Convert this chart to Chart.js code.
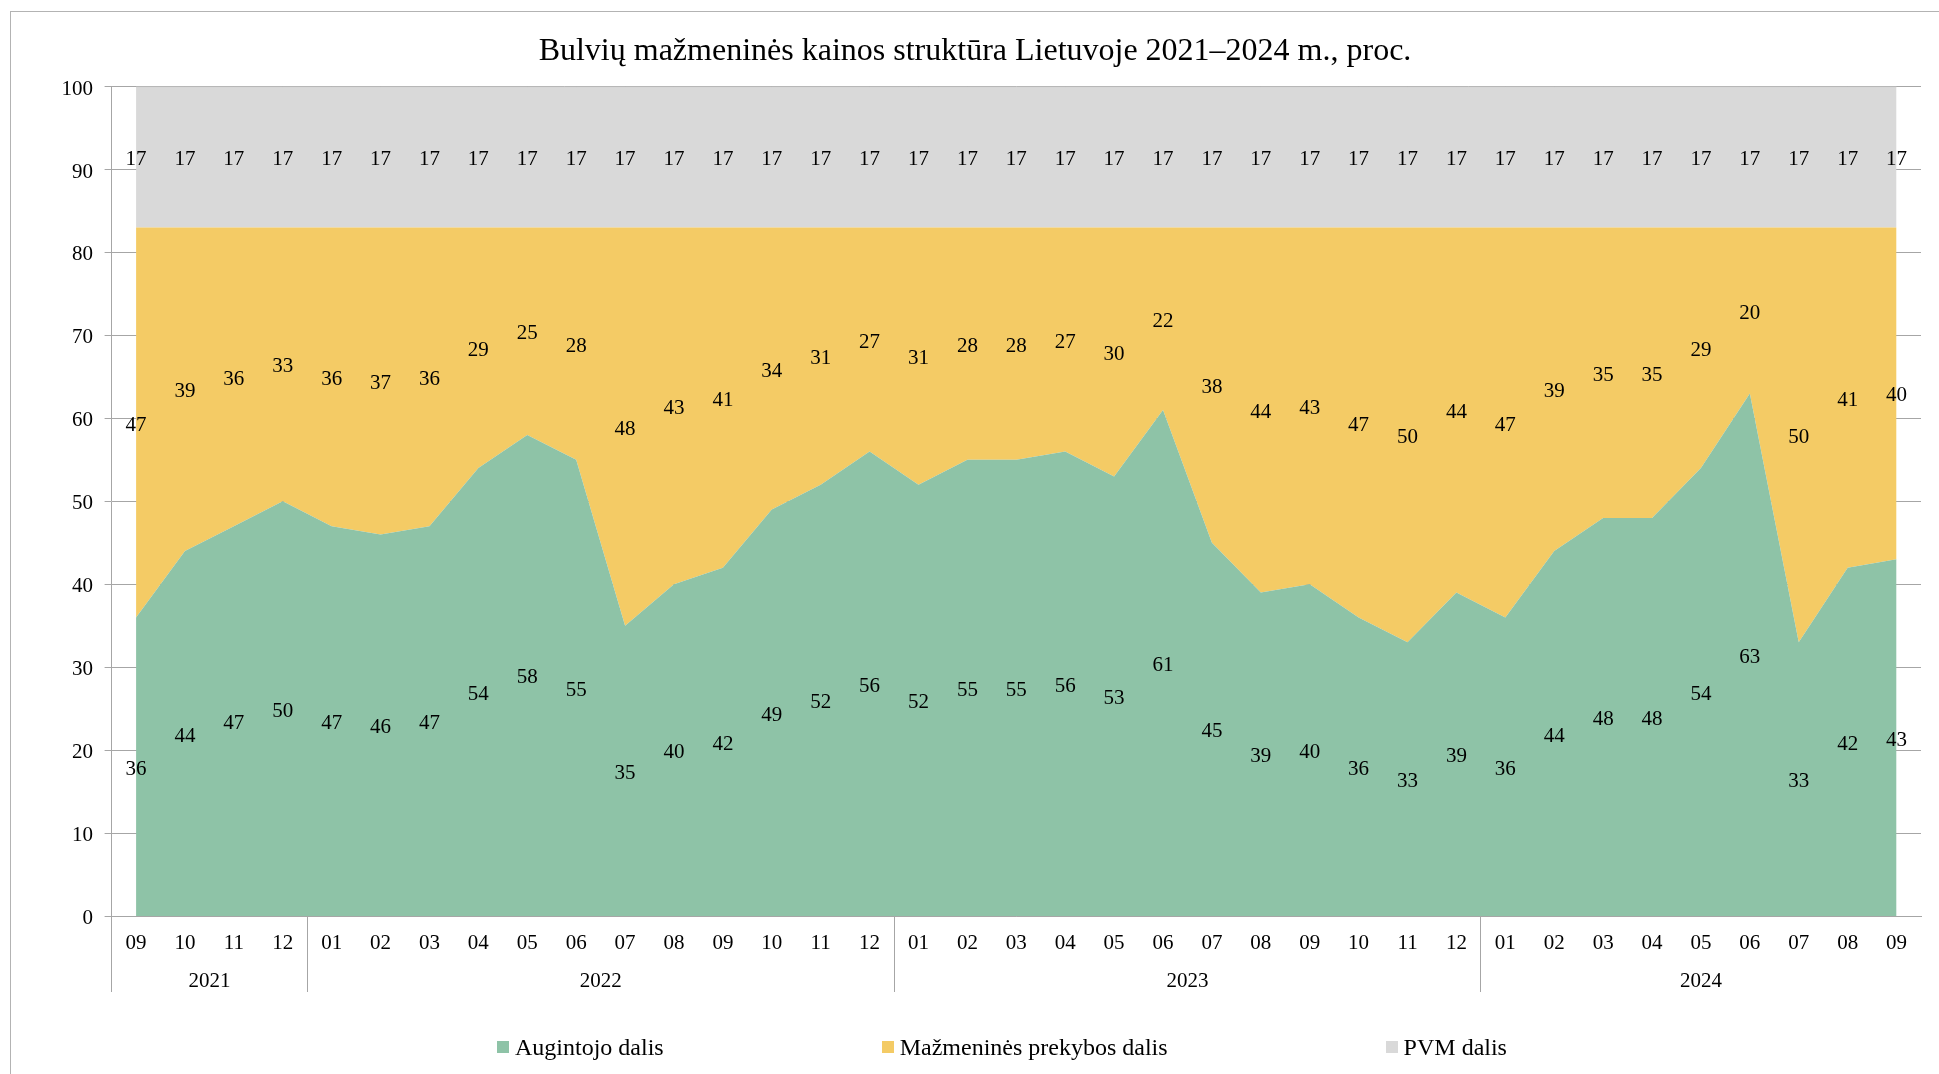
<!DOCTYPE html>
<html>
<head>
<meta charset="utf-8">
<script src="https://cdn.jsdelivr.net/npm/chart.js@4.4.1/dist/chart.umd.min.js"></script>
<style>
  html, body { margin:0; padding:0; background:#fff; overflow:hidden; width:1939px; height:1074px; }
  #frame { position:absolute; left:10px; top:11px; width:2100px; height:1200px; border:1px solid #b3b3b3; box-sizing:border-box; }
  #wrap { position:absolute; left:0; top:0; width:1940px; height:1074px; }
  #legend { position:absolute; left:497px; top:1034.5px; display:flex; gap:218px; font-family:"Liberation Serif", "Times New Roman", serif; font-size:24px; line-height:25px; color:#000; white-space:nowrap; }
  .item { display:flex; align-items:center; }
  .sw { width:12px; height:12px; margin-right:6px; display:inline-block; }
</style>
</head>
<body>
<div id="frame"></div>
<div id="wrap"><canvas id="c" width="1940" height="1074"></canvas></div>
<div id="legend"></div>
<script>
const titleText = 'Bulvių mažmeninės kainos struktūra Lietuvoje 2021–2024 m., proc.';

const months = ['09','10','11','12',
  '01','02','03','04','05','06','07','08','09','10','11','12',
  '01','02','03','04','05','06','07','08','09','10','11','12',
  '01','02','03','04','05','06','07','08','09'];

const yearLabels = ['2021','2022','2023','2024'];
const monthsPerYear = [4, 12, 12, 9];

const seriesNames = ['Augintojo dalis', 'Mažmeninės prekybos dalis', 'PVM dalis'];

const growerShare = [36,44,47,50,
  47,46,47,54,58,55,35,40,42,49,52,56,
  52,55,55,56,53,61,45,39,40,36,33,39,
  36,44,48,48,54,63,33,42,43];

const retailShare = [47,39,36,33,
  36,37,36,29,25,28,48,43,41,34,31,27,
  31,28,28,27,30,22,38,44,43,47,50,44,
  47,39,35,35,29,20,50,41,40];

const vatShare = [17,17,17,17,
  17,17,17,17,17,17,17,17,17,17,17,17,
  17,17,17,17,17,17,17,17,17,17,17,17,
  17,17,17,17,17,17,17,17,17];

const yTicks = [0,10,20,30,40,50,60,70,80,90,100];

const colors = ['#8EC3A7', '#F4CB65', '#D9D9D9'];
const axisColor = '#a6a6a6';
const FONT = '"Liberation Serif", "Times New Roman", serif';
const TEXT_SHIFT = 2.5;

// derived year group boundaries / centres (category index space)
const yearBoundaries = [0];
const yearCenters = [];
monthsPerYear.forEach(n => {
  const start = yearBoundaries[yearBoundaries.length - 1];
  yearCenters.push(start + (n - 1) / 2);
  yearBoundaries.push(start + n);
});

const stackLabels = {
  id: 'stackLabels',
  afterDatasetsDraw(chart) {
    const ctx = chart.ctx, ys = chart.scales.y, xs = chart.scales.x;
    ctx.save();
    ctx.font = '21px ' + FONT;
    ctx.fillStyle = '#000';
    ctx.textAlign = 'center';
    ctx.textBaseline = 'middle';
    chart.data.labels.forEach((_, i) => {
      let base = 0;
      chart.data.datasets.forEach(ds => {
        const v = ds.data[i];
        ctx.fillText(String(v), xs.getPixelForValue(i), ys.getPixelForValue(base + v / 2) + TEXT_SHIFT);
        base += v;
      });
    });
    ctx.restore();
  }
};

const chart = new Chart(document.getElementById('c'), {
  type: 'line',
  data: {
    labels: months,
    datasets: [
      { label: seriesNames[0], data: growerShare, backgroundColor: colors[0], borderColor: 'rgba(0,0,0,0)', borderWidth: 0, fill: 'origin', pointRadius: 0, tension: 0 },
      { label: seriesNames[1], data: retailShare, backgroundColor: colors[1], borderColor: 'rgba(0,0,0,0)', borderWidth: 0, fill: '-1', pointRadius: 0, tension: 0 },
      { label: seriesNames[2], data: vatShare, backgroundColor: colors[2], borderColor: '#c4c4c4', borderWidth: 1, fill: '-1', pointRadius: 0, tension: 0 }
    ]
  },
  options: {
    responsive: false,
    animation: false,
    devicePixelRatio: 1,
    layout: { padding: { left: 29, right: 19, top: 0, bottom: 70 } },
    plugins: {
      legend: { display: false },
      tooltip: { enabled: false },
      title: {
        display: true, text: titleText, color: '#000',
        font: { family: FONT, size: 32, weight: 'normal' },
        padding: { top: 32.3, bottom: 15.9 }
      }
    },
    scales: {
      x: {
        type: 'category', offset: true,
        grid: {
          display: true, drawOnChartArea: false, drawTicks: true, tickLength: 76, offset: true, lineWidth: 1,
          color: c => yearBoundaries.includes(c.index) ? axisColor : 'rgba(0,0,0,0)'
        },
        border: { display: true, color: axisColor, width: 1 },
        ticks: { autoSkip: false, maxRotation: 0, minRotation: 0, padding: -60.8, color: '#000', font: { family: FONT, size: 21 } },
        afterFit: s => { s.height = 38; }
      },
      x2: {
        type: 'linear', position: 'bottom', bounds: 'data', min: -0.5, max: months.length - 0.5,
        grid: { display: false, drawTicks: false, tickLength: 0 },
        border: { display: false },
        afterBuildTicks: s => { s.ticks = yearCenters.map(v => ({ value: v })); },
        ticks: { autoSkip: false, maxRotation: 0, minRotation: 0, padding: 15.1, color: '#000', font: { family: FONT, size: 21 },
          callback: (v, i) => yearLabels[i] },
        afterFit: s => { s.height = 50; }
      },
      y: {
        stacked: true, min: 0, max: 100,
        afterBuildTicks: s => { s.ticks = yTicks.map(v => ({ value: v })); },
        grid: { color: axisColor, tickLength: 7, lineWidth: 1 },
        border: { color: axisColor, width: 1 },
        ticks: { padding: 11.6, labelOffset: TEXT_SHIFT, color: '#000', font: { family: FONT, size: 21 } },
        afterFit: s => { s.width = 82.6; }
      }
    }
  },
  plugins: [stackLabels]
});

// HTML legend built from the chart's datasets
const legendEl = document.getElementById('legend');
chart.data.datasets.forEach(ds => {
  const item = document.createElement('div');
  item.className = 'item';
  const sw = document.createElement('span');
  sw.className = 'sw';
  sw.style.background = ds.backgroundColor;
  const tx = document.createElement('span');
  tx.textContent = ds.label;
  item.appendChild(sw);
  item.appendChild(tx);
  legendEl.appendChild(item);
});
</script>
</body>
</html>
